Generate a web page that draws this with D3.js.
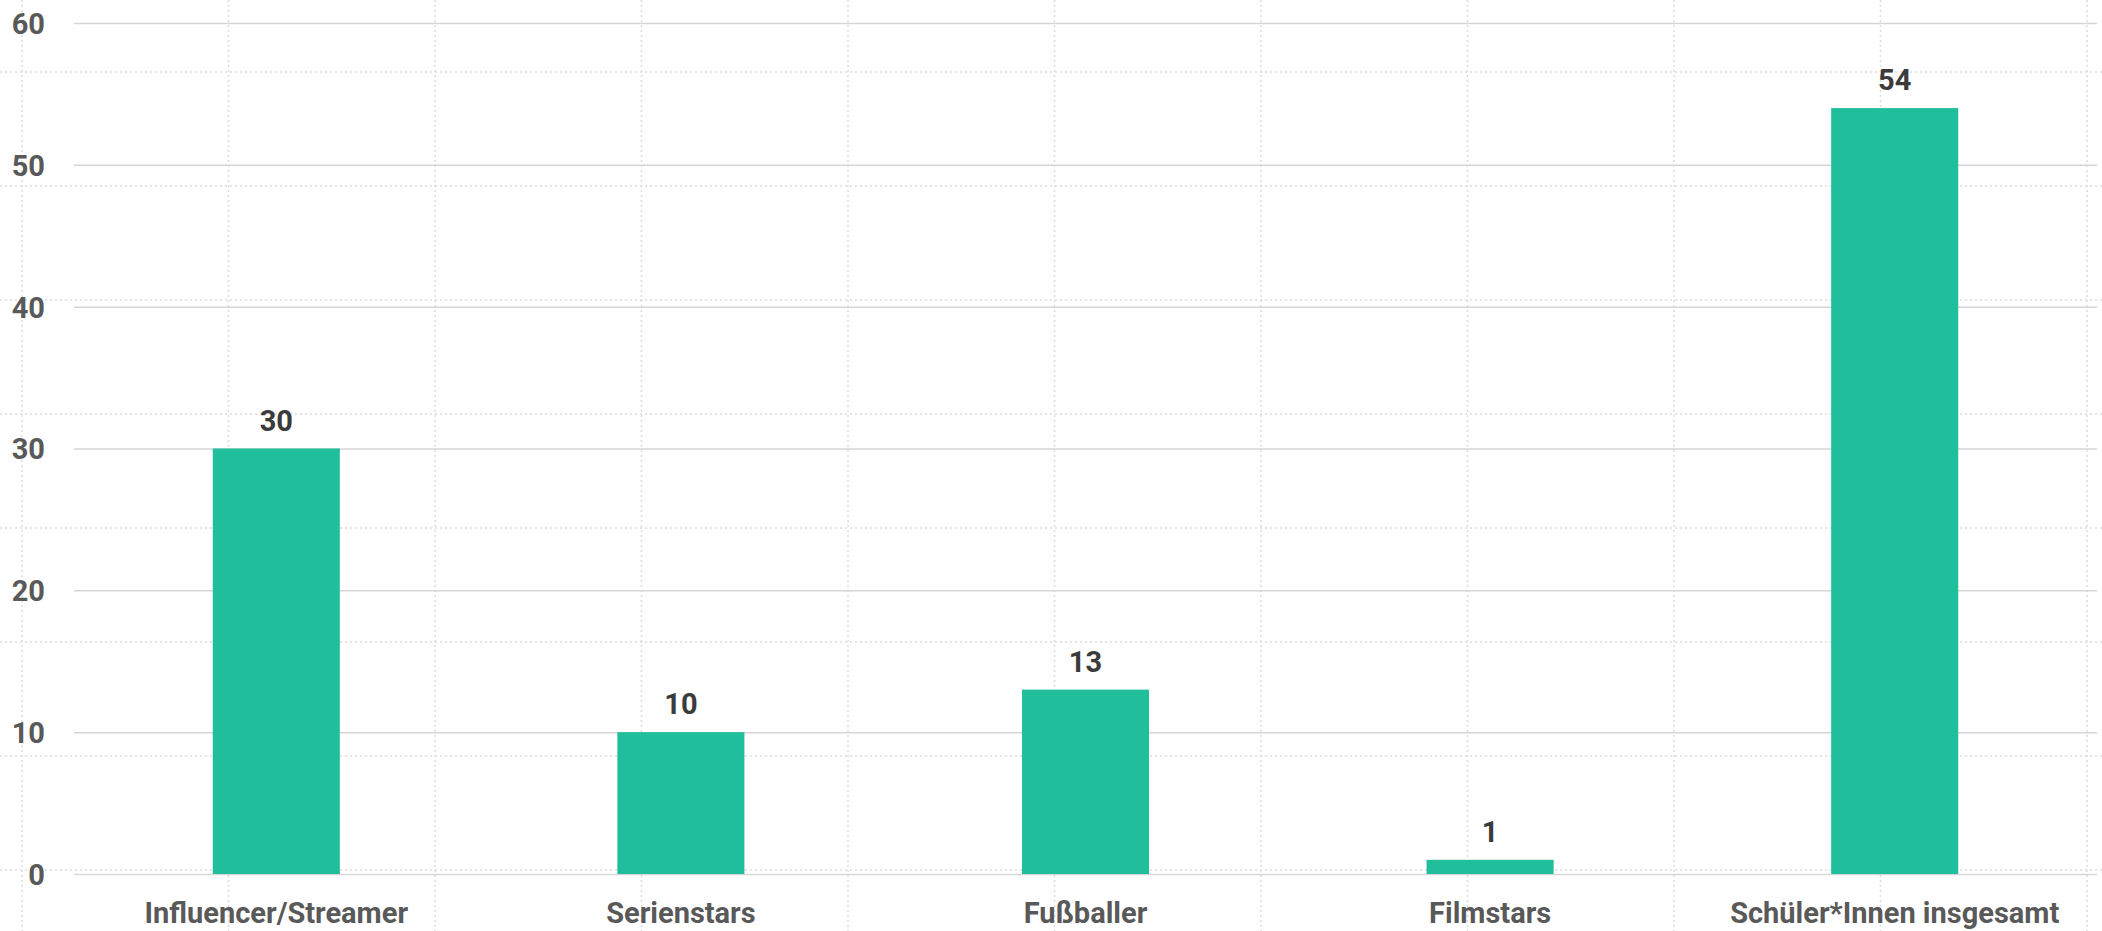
<!DOCTYPE html>
<html lang="de">
<head>
   <meta charset="UTF-8">
   <title>Vorbilder</title>
   <style>
      html, body {
         margin: 0;
         padding: 0;
         background: #fff;
         overflow: hidden;
      }

      text {
         font-family: Roboto, "DejaVu Sans", sans-serif;
         font-weight: 700;
      }

      .tick text {
         font-size: 29px;
         fill: #595959;
      }

      .value {
         font-size: 29px;
         fill: #3b3b3b;
      }

      .guide line {
         stroke: #dcdcdc;
         stroke-width: 1.5;
         stroke-dasharray: 2 3;
      }
   </style>
   <script src="https://cdn.jsdelivr.net/npm/d3@7"></script>
</head>
<body>
   <svg id="chart"></svg>
   <script>
      const categories = ['Influencer/Streamer', 'Serienstars', 'Fußballer', 'Filmstars', 'Schüler*Innen insgesamt']
      const values = [30, 10, 13, 1, 54]
      const yTicks = [0, 10, 20, 30, 40, 50, 60]

      const WIDTH = 2102
      const HEIGHT = 931
      const margin = { top: 23, right: 5, bottom: 57, left: 74 }

      const svg = d3.select('#chart')
         .attr('width', WIDTH)
         .attr('height', HEIGHT)

      // dotted background guides
      const guide = svg.append('g').attr('class', 'guide')
      guide.selectAll('line.h')
         .data(d3.range(72, HEIGHT, 114))
         .enter()
         .append('line')
         .attr('x1', 0)
         .attr('x2', WIDTH)
         .attr('y1', d => d)
         .attr('y2', d => d)
      guide.selectAll('line.v')
         .data(d3.range(22, WIDTH, 206.5))
         .enter()
         .append('line')
         .attr('y1', 0)
         .attr('y2', HEIGHT)
         .attr('x1', d => d)
         .attr('x2', d => d)

      const innerW = WIDTH - margin.left - margin.right
      const innerH = HEIGHT - margin.top - margin.bottom

      const chart = svg.append('g')
         .attr('transform', `translate(${margin.left}, ${margin.top})`)

      const x = d3.scaleBand()
         .domain(categories)
         .range([0, innerW])
         .paddingInner(0.686)
         .paddingOuter(0.343)

      const y = d3.scaleLinear()
         .domain([0, 60])
         .range([innerH, 0])

      // y axis with gridlines
      const yAxis = chart.append('g')
         .call(d3.axisLeft(y).tickValues(yTicks).tickSize(-innerW).tickPadding(29))
      yAxis.select('.domain').remove()
      yAxis.selectAll('.tick line')
         .attr('stroke', '#d6d6d6')
         .attr('stroke-width', 1.5)
      yAxis.selectAll('.tick text')
         .attr('dy', '0.36em')

      // x axis
      const xAxis = chart.append('g')
         .attr('transform', `translate(0, ${innerH})`)
         .call(d3.axisBottom(x).tickSize(0).tickPadding(28))
      xAxis.select('.domain').remove()
      xAxis.selectAll('.tick text')
         .attr('dy', '0.71em')

      // bars
      chart.selectAll('rect.bar')
         .data(values)
         .enter()
         .append('rect')
         .attr('class', 'bar')
         .attr('x', (d, i) => x(categories[i]))
         .attr('width', x.bandwidth())
         .attr('y', d => y(d))
         .attr('height', d => innerH - y(d))
         .attr('fill', '#20be9a')

      // value labels
      chart.selectAll('text.value')
         .data(values)
         .enter()
         .append('text')
         .attr('class', 'value')
         .attr('text-anchor', 'middle')
         .attr('x', (d, i) => x(categories[i]) + x.bandwidth() / 2)
         .attr('y', d => y(d) - 18)
         .text(d => d)
   </script>
</body>
</html>
